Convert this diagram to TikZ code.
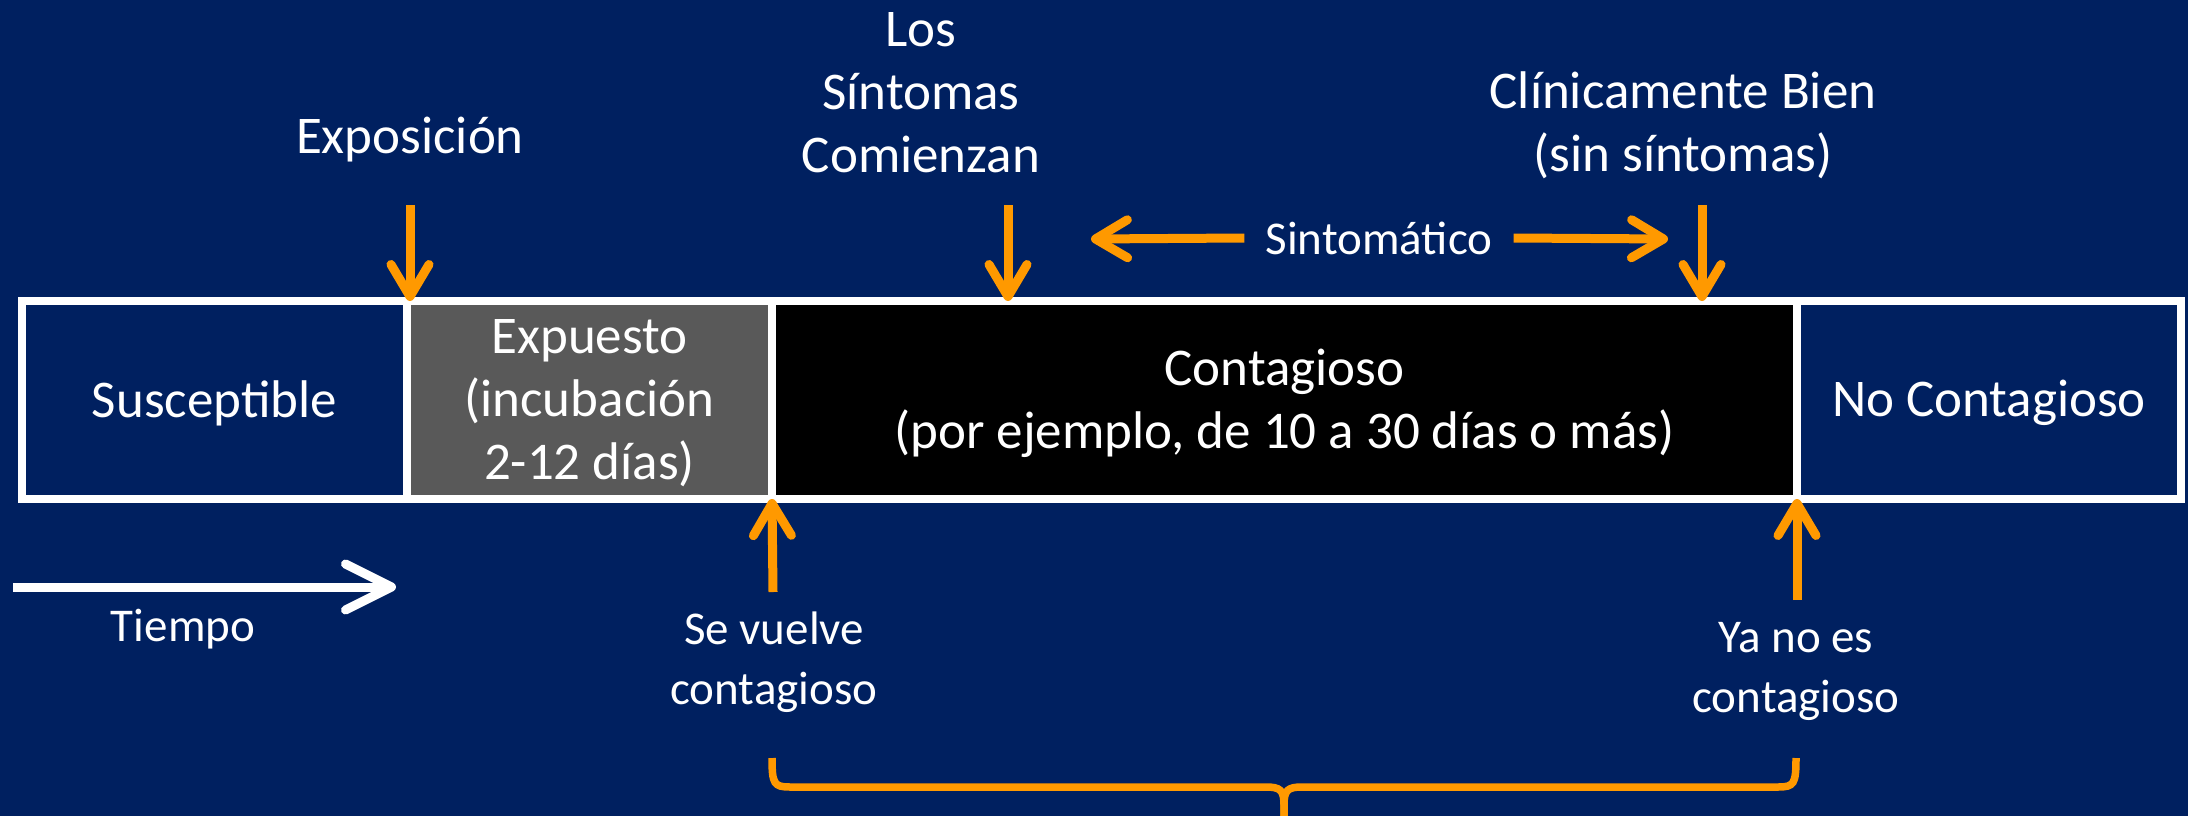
\documentclass[tikz,border=0pt]{standalone}
\usepackage{fontspec}
\setmainfont{Carlito}
\usetikzlibrary{arrows.meta}
\definecolor{bgnavy}{RGB}{0,32,96}
\definecolor{expgray}{RGB}{89,89,89}
\definecolor{orng}{RGB}{255,153,0}
\newcommand\myMainFs{\fontsize{53}{63}\selectfont}
\newcommand\mySmallFs{\fontsize{47}{60}\selectfont}
\begin{document}
\begin{tikzpicture}[x=1pt,y=-1pt,
  phase/.style={draw=white, line width=8pt, minimum height=198pt, inner sep=0pt,
    outer sep=0pt, anchor=north west},
  lbl/.style={text=white, align=center, font=\myMainFs, inner sep=0pt},
  smalllbl/.style={text=white, align=center, font=\mySmallFs, inner sep=0pt},
  oarr/.style={draw=orng, line width=9pt, -{Straight Barb[length=32pt,width=38pt,round]}},
  warr/.style={draw=white, line width=9pt, -{Straight Barb[length=46pt,width=46pt,round]}},
  bracestyle/.style={draw=orng, line width=7.5pt}]
\fill[bgnavy] (0,0) rectangle (2188,816);
\useasboundingbox (0,0) rectangle (2188,816);

% phase boxes
\node[phase, fill=bgnavy, minimum width=385pt] (sus) at (22,301) {};
\node[phase, fill=expgray, minimum width=365pt] (exp) at (407,301) {};
\node[phase, fill=black, minimum width=1025pt] (con) at (772,301) {};
\node[phase, fill=bgnavy, minimum width=384pt] (nocon) at (1797,301) {};
\node[lbl] (susT) at ([yshift=-3pt]sus.center) {Susceptible};
\node[lbl] (expT) at ([yshift=-3pt]exp.center) {Expuesto\\(incubación\\2-12 días)};
\node[lbl] (conT) at ([yshift=-3pt]con.center) {Contagioso\\(por ejemplo, de 10 a 30 días o más)};
\node[lbl] (noconT) at ([yshift=-3pt]nocon.center) {No Contagioso};

% labels above
\node[lbl] (expo) at (410,140) {Exposición};
\node[lbl] (sint) at (921,93) {Los\\Síntomas\\Comienzan};
\node[lbl] (clin) at (1683,125) {Clínicamente Bien\\(sin síntomas)};
\node[smalllbl, inner xsep=21pt] (sinto) at (1379,238) {Sintomático};

% labels below
\node[smalllbl] (vuel) at (774,662) {Se vuelve\\contagioso};
\node[smalllbl] (yano) at (1796,671) {Ya no es\\contagioso};
\node[smalllbl] (tiem) at (183,629) {Tiempo};

% down arrows
\coordinate (e0) at (410,205);
\coordinate (s0) at (1008,205);
\coordinate (c0) at (1702,205);
\draw[oarr] (e0) -- (e0 |- sus.north);
\draw[oarr] (s0) -- (s0 |- con.north);
\draw[oarr] (c0) -- (c0 |- con.north);

% symptomatic arrows
\coordinate (sl) at (1091,239);
\coordinate (sr) at (1668,239);
\draw[oarr] (sinto.west) -- (sl);
\draw[oarr] (sinto.east) -- (sr);

% up arrows
\coordinate (v0) at (773,592);
\coordinate (y0) at (1797,600);
\draw[oarr] (v0) -- (con.south west);
\draw[oarr] (y0) -- (con.south east);

% time arrow
\coordinate (t0) at (13,587);
\coordinate (t1) at (396,587);
\draw[warr] (t0) -- (t1);

% brace
\coordinate (bl) at (772,758);
\coordinate (br) at (1796,758);
\coordinate (bm) at (1284,820);
\draw[bracestyle] (bl) .. controls (772,784) and (774,787) .. (790,787) -- (1266,787)
  .. controls (1280,787) and (1284,790) .. (1284,805) -- (bm);
\draw[bracestyle] (br) .. controls (1796,784) and (1794,787) .. (1778,787) -- (1302,787)
  .. controls (1288,787) and (1284,790) .. (1284,805) -- (bm);
\end{tikzpicture}
\end{document}
